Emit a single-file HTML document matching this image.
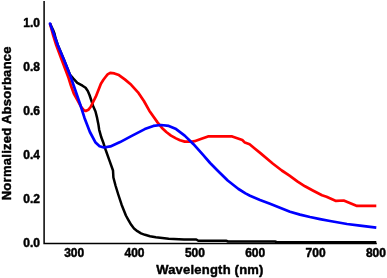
<!DOCTYPE html>
<html><head><meta charset="utf-8"><style>
html,body{margin:0;padding:0;background:#fff;}
svg{display:block;will-change:transform;}
text{font-family:"Liberation Sans",sans-serif;font-weight:bold;fill:#000;stroke:#000;stroke-width:0.45px;stroke-linejoin:round;}
</style></head><body>
<svg width="387" height="278" viewBox="0 0 387 278">
<rect width="387" height="278" fill="#fff"/>
<path d="M44.1,1 L44.1,243.5 L376.8,243.5" fill="none" stroke="#000" stroke-width="1.5" stroke-linejoin="miter"/>
<path d="M50.0,23.6 L53.1,30.0 L54.6,34.0 L55.5,38.0 L57.8,45.0 L64.1,60.0 L69.9,74.5 L73.4,78.6 L77.3,82.8 L82.5,85.7 L85.6,87.8 L87.8,91.0 L89.5,95.0 L91.2,100.0 L93.0,105.7 L95.5,111.5 L97.1,117.9 L98.4,124.4 L99.2,129.8 L101.3,137.3 L103.7,143.8 L105.7,150.0 L109.4,160.3 L113.0,170.5 L113.4,177.5 L115.5,185.5 L118.1,194.0 L121.6,204.7 L125.9,215.5 L128.3,219.8 L131.2,224.8 L134.0,228.5 L137.4,231.2 L141.0,233.3 L145.0,234.8 L150.0,236.2 L155.8,237.3 L168.7,238.8 L184.0,239.4 L196.3,239.5 L198.3,240.7 L226.0,240.7 L228.0,241.5 L275.0,241.5 L277.0,242.2 L376.3,242.2" fill="none" stroke="#000" stroke-width="2.5" stroke-linejoin="round" stroke-linecap="butt"/>
<path d="M50.0,23.6 L52.8,34.0 L56.2,45.0 L61.8,60.0 L68.6,78.0 L71.0,85.8 L73.8,93.5 L78.0,101.2 L81.5,107.5 L83.8,110.2 L85.8,111.0 L88.3,109.8 L90.6,107.0 L95.8,96.7 L100.9,83.7 L103.4,79.8 L105.5,77.0 L107.6,74.4 L110.2,72.9 L114.4,73.4 L118.9,75.1 L124.8,79.4 L131.2,84.8 L138.0,92.3 L143.9,101.0 L149.3,110.7 L157.7,122.6 L162.0,127.9 L166.3,132.0 L171.0,135.6 L176.0,138.4 L180.0,140.3 L184.7,141.6 L192.2,141.6 L194.6,141.2 L200.8,139.0 L208.0,136.4 L232.2,136.4 L242.3,140.0 L244.9,142.6 L249.6,144.3 L255.0,148.8 L260.1,152.9 L273.0,163.7 L281.8,170.5 L289.5,175.6 L297.3,181.3 L305.0,186.3 L312.8,190.5 L322.0,195.2 L326.5,196.8 L336.0,200.9 L343.7,200.5 L357.0,205.9 L376.3,205.9" fill="none" stroke="#ff0000" stroke-width="2.7" stroke-linejoin="round" stroke-linecap="butt"/>
<path d="M50.0,23.6 L53.8,34.0 L57.7,45.0 L64.0,60.0 L70.8,77.0 L72.8,83.0 L80.4,105.0 L84.5,117.9 L89.9,132.0 L95.3,142.2 L99.6,146.3 L103.9,147.5 L110.4,146.4 L120.1,142.1 L130.8,136.4 L144.8,129.1 L153.4,125.9 L161.0,125.0 L168.8,125.9 L176.1,129.1 L184.7,135.6 L193.5,144.2 L203.3,155.1 L210.1,163.0 L218.0,171.0 L227.7,180.5 L238.5,189.0 L245.5,193.4 L250.0,195.8 L260.0,199.9 L270.0,203.7 L280.0,207.7 L290.0,211.7 L300.0,214.6 L310.0,217.0 L320.0,219.1 L330.0,221.0 L347.0,224.0 L360.0,225.7 L376.3,227.6" fill="none" stroke="#0000ff" stroke-width="2.7" stroke-linejoin="round" stroke-linecap="butt"/>
<circle cx="50.0" cy="23.6" r="1.35" fill="#0000ff"/>
<g>
<text x="74.2" y="256.8" font-size="12" text-anchor="middle">300</text>
<text x="134.5" y="256.8" font-size="12" text-anchor="middle">400</text>
<text x="194.9" y="256.8" font-size="12" text-anchor="middle">500</text>
<text x="255.2" y="256.8" font-size="12" text-anchor="middle">600</text>
<text x="315.6" y="256.8" font-size="12" text-anchor="middle">700</text>
<text x="375.9" y="256.8" font-size="12" text-anchor="middle">800</text>
<text x="40.0" y="247.2" font-size="12" text-anchor="end">0.0</text>
<text x="40.0" y="203.0" font-size="12" text-anchor="end">0.2</text>
<text x="40.0" y="159.0" font-size="12" text-anchor="end">0.4</text>
<text x="40.0" y="115.0" font-size="12" text-anchor="end">0.6</text>
<text x="40.0" y="71.0" font-size="12" text-anchor="end">0.8</text>
<text x="40.0" y="27.1" font-size="12" text-anchor="end">1.0</text>
<text x="209.8" y="273.9" font-size="13" text-anchor="middle" textLength="107.3">Wavelength (nm)</text>
<text transform="translate(11.3,123.35) rotate(-90)" font-size="13" text-anchor="middle" textLength="153.9">Normalized Absorbance</text>
</g>
</svg></body></html>
